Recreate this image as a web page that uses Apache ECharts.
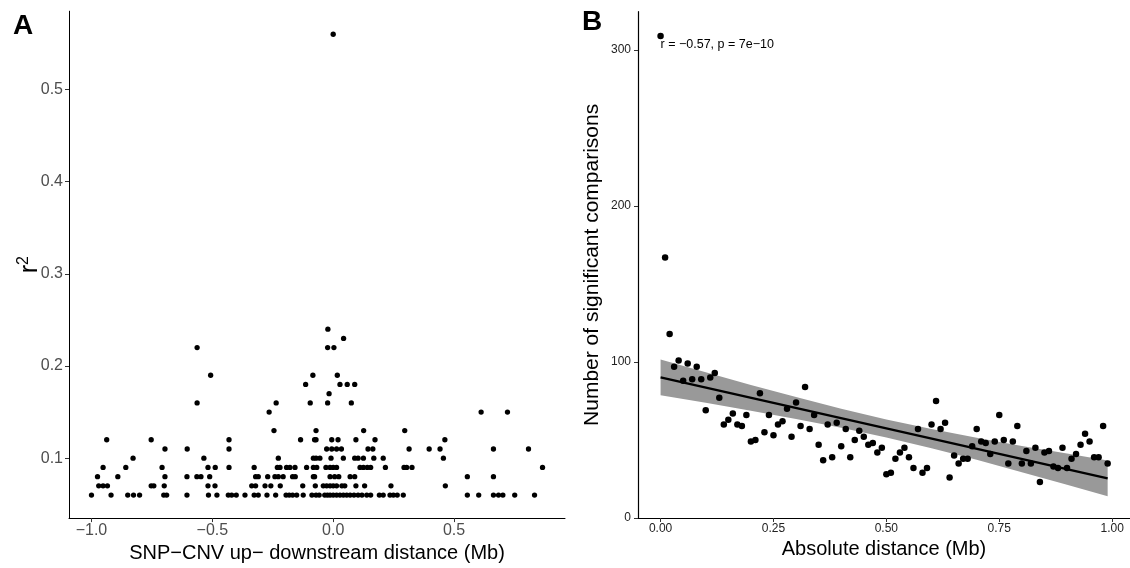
<!DOCTYPE html>
<html>
<head>
<meta charset="utf-8">
<script src="https://cdn.jsdelivr.net/npm/echarts@6/dist/echarts.min.js"></script>
<style>
html, body { margin: 0; padding: 0; background: #fff; }
#chart { width: 1130px; height: 568px; }
</style>
</head>
<body>
<div id="chart"></div>
<script>
// Panel A: SNP-CNV distance (Mb) for each r^2 level
const r2_006 = [-1.000,-0.919,-0.850,-0.826,-0.801,-0.701,-0.689,-0.605,-0.516,-0.481,-0.434,-0.420,-0.401,-0.365,-0.327,-0.310,-0.274,-0.238,-0.195,-0.182,-0.168,-0.151,-0.124,-0.088,-0.071,-0.058,-0.035,-0.024,-0.013,0.000,0.014,0.028,0.042,0.056,0.070,0.086,0.103,0.119,0.139,0.155,0.191,0.207,0.235,0.249,0.265,0.290,0.555,0.602,0.663,0.684,0.702,0.751,0.833];
const r2_007 = [-0.970,-0.952,-0.934,-0.753,-0.742,-0.699,-0.518,-0.489,-0.337,-0.321,-0.282,-0.258,-0.219,-0.126,-0.074,-0.041,-0.027,-0.013,0.000,0.014,0.036,0.048,0.094,0.130,0.239,0.464];
const r2_008 = [-0.975,-0.891,-0.696,-0.605,-0.564,-0.547,-0.511,-0.321,-0.310,-0.271,-0.241,-0.227,-0.207,-0.168,-0.157,-0.082,-0.077,-0.013,0.006,0.023,0.070,0.089,0.555,0.663];
const r2_009 = [-0.952,-0.858,-0.708,-0.518,-0.488,-0.431,-0.327,-0.231,-0.220,-0.193,-0.179,-0.158,-0.110,-0.082,-0.068,-0.030,-0.013,0.000,0.014,0.111,0.125,0.141,0.155,0.216,0.293,0.304,0.326,0.866];
const r2_010 = [-0.828,-0.535,-0.227,-0.082,-0.071,-0.055,-0.009,0.042,0.089,0.103,0.125,0.168,0.207,0.456];
const r2_011 = [-0.696,-0.604,-0.431,-0.027,-0.006,0.014,0.034,0.144,0.164,0.314,0.397,0.442,0.663,0.808];
const r2_012 = [-0.937,-0.753,-0.431,-0.135,-0.077,-0.071,-0.006,0.020,0.094,0.173,0.462];
const r2_013 = [-0.245,-0.071,0.126,0.296];
const r2_015 = [-0.265,0.612,0.721];
const r2_016 = [-0.563,-0.236,-0.095,-0.023,0.075];
const r2_017 = [-0.017];
const r2_018 = [-0.114,0.028,0.058,0.089];
const r2_019 = [-0.507,-0.084,0.017];
const r2_022 = [-0.563,-0.023,0.003];
const r2_023 = [0.043];
const r2_024 = [-0.022];
const r2_056 = [0.000];

const r2Levels = [
  [0.06, r2_006], [0.07, r2_007], [0.08, r2_008], [0.09, r2_009], [0.10, r2_010],
  [0.11, r2_011], [0.12, r2_012], [0.13, r2_013], [0.15, r2_015], [0.16, r2_016],
  [0.17, r2_017], [0.18, r2_018], [0.19, r2_019], [0.22, r2_022], [0.23, r2_023],
  [0.24, r2_024], [0.56, r2_056]
];
const distTicks = [-1, -0.5, 0, 0.5];
const r2Ticks = [0.1, 0.2, 0.3, 0.4, 0.5];

// Panel B: number of significant comparisons per absolute distance bin
const absDist = [0.00,0.01,0.02,0.03,0.04,0.05,0.06,0.07,0.08,0.09,0.10,0.11,0.12,0.13,0.14,0.15,0.16,0.17,0.18,0.19,
  0.20,0.21,0.22,0.23,0.24,0.25,0.26,0.27,0.28,0.29,0.30,0.31,0.32,0.33,0.34,0.35,0.36,0.37,0.38,0.39,
  0.40,0.41,0.42,0.43,0.44,0.45,0.46,0.47,0.48,0.49,0.50,0.51,0.52,0.53,0.54,0.55,0.56,0.57,0.58,0.59,
  0.60,0.61,0.62,0.63,0.64,0.65,0.66,0.67,0.68,0.69,0.70,0.71,0.72,0.73,0.74,0.75,0.76,0.77,0.78,0.79,
  0.80,0.81,0.82,0.83,0.84,0.85,0.86,0.87,0.88,0.89,0.90,0.91,0.92,0.93,0.94,0.95,0.96,0.97,0.98,0.99];
const sigCount = [309,167,118,97,101,88,99,89,97,89,69,90,93,77,60,63,67,60,59,66,
  49,50,80,55,66,53,60,62,70,52,74,59,84,57,66,47,37,60,39,61,
  46,57,39,50,56,52,47,48,42,45,28,29,38,42,45,39,32,57,29,32,
  60,75,57,61,26,40,35,38,38,46,57,49,48,41,49,66,50,35,49,59,
  35,43,35,45,23,42,43,33,32,45,32,38,41,47,54,49,39,39,59,35];

// Linear fit and its confidence band
const fitX = [0.00, 0.99];
const fitY = [90.1, 25.4];
const bandX  = [0.00, 0.10, 0.20, 0.30, 0.40, 0.50, 0.60, 0.70, 0.80, 0.90, 0.99];
const bandLo = [78.6, 73.8, 68.7, 63.5, 57.9, 51.6, 44.7, 37.3, 29.4, 21.3, 13.9];
const bandHi = [101.6, 93.4, 85.3, 77.5, 70.1, 63.2, 57.1, 51.5, 46.2, 41.3, 36.9];
const absTicks = [0, 0.25, 0.5, 0.75, 1];
const countTicks = [0, 100, 200, 300];
const corText = 'r = \u22120.57, p = 7e\u221210';
const corPos = [0.00, 304];

const FONT = '"Liberation Sans", Arial, Helvetica, sans-serif';
const minus = s => s.replace('-', '\u2212');

const pointsA = [];
r2Levels.forEach(([r2, xs]) => xs.forEach(x => pointsA.push([x, r2])));
const pointsB = absDist.map((d, i) => [d, sigCount[i]]);

const chart = echarts.init(document.getElementById('chart'), null, { renderer: 'canvas' });

const axisCommon = {
  splitLine: { show: false },
  axisLine: { show: true, onZero: false, lineStyle: { color: '#000', width: 1 } },
  axisTick: { show: true, length: 4, lineStyle: { color: '#333', width: 1 } }
};

chart.setOption({
  animation: false,
  backgroundColor: '#fff',
  textStyle: { fontFamily: FONT },
  grid: [
    { left: 69, top: 11.2, width: 496, height: 510.3 },
    { left: 638, top: 11.7, width: 492, height: 506.3 }
  ],
  xAxis: [
    Object.assign({}, axisCommon, {
      type: 'value', gridIndex: 0, min: -1.093, max: 0.959,
      axisTick: Object.assign({}, axisCommon.axisTick, { customValues: distTicks }),
      axisLabel: { customValues: distTicks, color: '#4d4d4d', fontSize: 16, margin: 4, fontFamily: FONT,
        formatter: v => minus(v.toFixed(1)) },
      name: 'SNP\u2212CNV up\u2212 downstream distance (Mb)', nameLocation: 'middle', nameGap: 18,
      nameTextStyle: { fontSize: 20, color: '#000', fontFamily: FONT }
    }),
    Object.assign({}, axisCommon, {
      type: 'value', gridIndex: 1, min: -0.05, max: 1.0395,
      axisLine: { show: true, onZero: false, lineStyle: { color: '#000', width: 1.2 } },
      axisTick: Object.assign({}, axisCommon.axisTick, { customValues: absTicks }),
      axisLabel: { customValues: absTicks, color: '#222', fontSize: 12, margin: 5, fontFamily: FONT,
        formatter: v => v.toFixed(2) },
      name: 'Absolute distance (Mb)', nameLocation: 'middle', nameGap: 20,
      nameTextStyle: { fontSize: 20, color: '#000', fontFamily: FONT }
    })
  ],
  yAxis: [
    Object.assign({}, axisCommon, {
      type: 'value', gridIndex: 0, min: 0.035, max: 0.585,
      axisTick: Object.assign({}, axisCommon.axisTick, { customValues: r2Ticks }),
      axisLabel: { customValues: r2Ticks, color: '#4d4d4d', fontSize: 16, margin: 6, fontFamily: FONT,
        formatter: v => v.toFixed(1) },
      name: '{r|r}{s|2}', nameLocation: 'middle', nameGap: 26, nameMoveOverlap: false,
      nameTextStyle: {
        color: '#000', fontFamily: FONT,
        rich: {
          r: { fontSize: 25, color: '#000', fontFamily: FONT, verticalAlign: 'bottom' },
          s: { fontSize: 16, color: '#000', fontFamily: FONT, verticalAlign: 'bottom', padding: [0, 0, 11, 0] }
        }
      }
    }),
    Object.assign({}, axisCommon, {
      type: 'value', gridIndex: 1, min: 0, max: 324.5,
      axisLine: { show: true, onZero: false, lineStyle: { color: '#000', width: 1.2 } },
      axisTick: Object.assign({}, axisCommon.axisTick, { customValues: countTicks }),
      axisLabel: { customValues: countTicks, color: '#222', fontSize: 12, margin: 7, fontFamily: FONT },
      name: 'Number of significant comparisons', nameLocation: 'middle', nameGap: 35,
      nameTextStyle: { fontSize: 21, color: '#000', fontFamily: FONT }
    })
  ],
  series: [
    {
      type: 'scatter', xAxisIndex: 0, yAxisIndex: 0, data: pointsA,
      symbolSize: 5.3, itemStyle: { color: '#000', opacity: 1 }, silent: true
    },
    {
      type: 'custom', xAxisIndex: 1, yAxisIndex: 1, data: [[0, 0]], silent: true, z: 1,
      renderItem: function (params, api) {
        const pts = [];
        bandX.forEach((x, i) => pts.push(api.coord([x, bandHi[i]])));
        for (let i = bandX.length - 1; i >= 0; i--) pts.push(api.coord([bandX[i], bandLo[i]]));
        return { type: 'polygon', shape: { points: pts }, style: { fill: '#999999' } };
      }
    },
    {
      type: 'line', xAxisIndex: 1, yAxisIndex: 1, z: 2, silent: true,
      data: fitX.map((x, i) => [x, fitY[i]]), symbol: 'none',
      lineStyle: { color: '#000', width: 2.2 }
    },
    {
      type: 'scatter', xAxisIndex: 1, yAxisIndex: 1, z: 3, data: pointsB,
      symbolSize: 6.5, itemStyle: { color: '#000', opacity: 1 }, silent: true
    }
  ]
});

// Correlation annotation and panel letters
const corPx = chart.convertToPixel({ gridIndex: 1 }, corPos);
chart.setOption({
  graphic: [
    { type: 'text', x: 13, y: 12, style: { text: 'A', font: 'bold 28px ' + FONT, fill: '#000', textAlign: 'left', textVerticalAlign: 'top' } },
    { type: 'text', x: 582, y: 8, style: { text: 'B', font: 'bold 28px ' + FONT, fill: '#000', textAlign: 'left', textVerticalAlign: 'top' } },
    { type: 'text', x: corPx[0], y: corPx[1] + 1, style: { text: corText, font: '12.5px ' + FONT, fill: '#000', textAlign: 'left', textVerticalAlign: 'middle' } }
  ]
});
</script>
</body>
</html>
